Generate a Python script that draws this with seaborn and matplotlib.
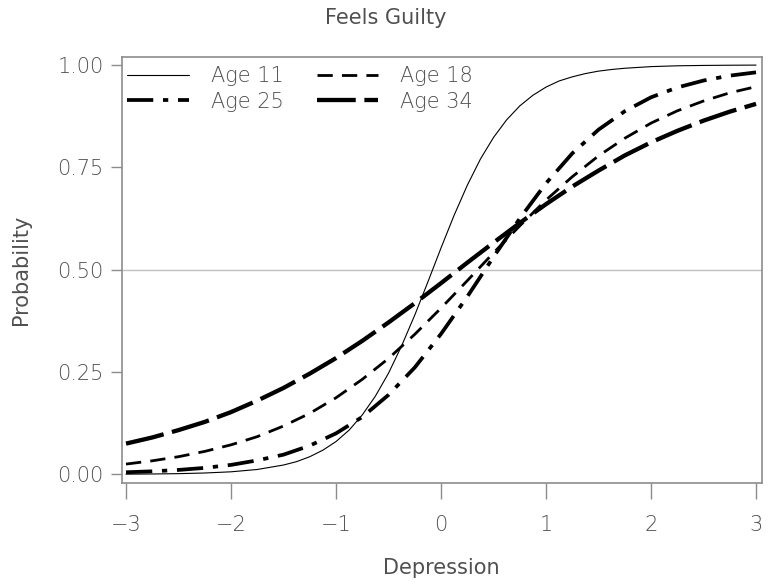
import numpy as np
import pandas as pd
import matplotlib
matplotlib.use("Agg")
import matplotlib.pyplot as plt
import seaborn as sns

# depression score grid and predicted probability
depression = [-3.0, -2.75, -2.5, -2.25, -2.0, -1.75, -1.5, -1.25, -1.0, -0.75, -0.5, -0.25,
              0.0, 0.25, 0.5, 0.75, 1.0, 1.25, 1.5, 1.75, 2.0, 2.25, 2.5, 2.75, 3.0]

# the age 11 curve is steep, so it was read at a finer step in the middle
depression_11 = [-3.0, -2.75, -2.5, -2.25, -2.0, -1.75, -1.5, -1.375, -1.25, -1.125, -1.0,
                 -0.875, -0.75, -0.625, -0.5, -0.375, -0.25, -0.125, 0.0, 0.125, 0.25, 0.375,
                 0.5, 0.625, 0.75, 0.875, 1.0, 1.125, 1.25, 1.375, 1.5, 1.625, 1.75, 2.0,
                 2.25, 2.5, 2.75, 3.0]
age_11 = [0.0004, 0.0008, 0.0016, 0.0032, 0.0061, 0.0118, 0.0227, 0.031, 0.043, 0.059, 0.080,
          0.108, 0.145, 0.191, 0.247, 0.314, 0.389, 0.470, 0.553, 0.633, 0.706, 0.770,
          0.823, 0.866, 0.900, 0.926, 0.946, 0.961, 0.971, 0.979, 0.985, 0.989, 0.992, 0.996,
          0.998, 0.9989, 0.9994, 0.9997]
age_18 = [0.025, 0.033, 0.043, 0.056, 0.072, 0.092, 0.118, 0.149, 0.187, 0.232, 0.283, 0.342,
          0.406, 0.473, 0.541, 0.607, 0.670, 0.727, 0.778, 0.821, 0.858, 0.888, 0.912, 0.932, 0.947]
age_25 = [0.005, 0.0073, 0.0107, 0.0157, 0.023, 0.034, 0.048, 0.070, 0.100, 0.140, 0.194, 0.261,
          0.343, 0.434, 0.531, 0.625, 0.711, 0.784, 0.842, 0.887, 0.921, 0.945, 0.962, 0.974, 0.982]
age_34 = [0.075, 0.090, 0.108, 0.128, 0.152, 0.180, 0.211, 0.246, 0.284, 0.326, 0.371, 0.418,
          0.467, 0.517, 0.566, 0.614, 0.660, 0.703, 0.742, 0.779, 0.811, 0.839, 0.864, 0.886, 0.905]

labels = ["Age 11", "Age 18", "Age 25", "Age 34"]
x_ticks = [-3, -2, -1, 0, 1, 2, 3]
y_ticks = [0.0, 0.25, 0.5, 0.75, 1.0]

df = pd.DataFrame({
    "Depression": depression_11 + depression * 3,
    "Probability": age_11 + age_18 + age_25 + age_34,
    "group": ["Age 11"] * len(depression_11) + list(np.repeat(labels[1:], len(depression))),
})

sns.set_style("white")
plt.rcParams["font.family"] = ["DejaVu Sans"]
plt.rcParams["font.weight"] = "light"
txt = "#505050"
edge = "#8c8c8c"

fig = plt.figure(figsize=(7.71, 5.87), dpi=100)
ax = fig.add_axes([121.7 / 771, 1 - 482.7 / 587, 640 / 771, 425.7 / 587])

styles = {
    "Age 11": dict(lw=0.8, ls="-"),
    "Age 18": dict(lw=2.0, ls=(0, (5.5, 3.3))),
    "Age 25": dict(lw=2.7, ls=(0, (7.0, 2.6, 1.4, 2.6))),
    "Age 34": dict(lw=3.1, ls=(0, (9.0, 2.0))),
}

ax.axhline(0.5, color="#c0c0c0", lw=1.0, zorder=1)

handles = {}
for lab in labels:
    sub = df[df["group"] == lab]
    sns.lineplot(data=sub, x="Depression", y="Probability", color="black",
                 linewidth=styles[lab]["lw"], linestyle=styles[lab]["ls"], ax=ax, zorder=3)
    handles[lab] = ax.lines[-1]

ax.set_xlim(-3.041, 3.054)
ax.set_ylim(-0.0205, 1.0195)
ax.set_xticks(x_ticks)
ax.set_xticklabels(["\u22123", "\u22122", "\u22121", "0", "1", "2", "3"])
ax.set_yticks(y_ticks)
ax.set_yticklabels(["0.00", "0.25", "0.50", "0.75", "1.00"])

for s in ax.spines.values():
    s.set_color(edge)
    s.set_linewidth(1.2)

ax.tick_params(axis="x", bottom=True, direction="out", length=11.5, width=1.0, color=edge,
               labelsize=15, labelcolor=txt, pad=12)
ax.tick_params(axis="y", left=True, direction="out", length=8, width=1.0, color=edge,
               labelsize=15, labelcolor=txt, pad=5)

ax.set_xlabel("Depression", fontsize=15, color=txt, labelpad=16)
ax.set_ylabel("Probability", fontsize=15, color=txt, labelpad=19)
fig.suptitle("Feels Guilty", fontsize=15, color=txt, x=0.5, y=1 - 18 / 587, va="center")

order = ["Age 11", "Age 25", "Age 18", "Age 34"]
ax.legend([handles[k] for k in order], order, ncol=2, frameon=False,
          loc="upper left", bbox_to_anchor=(-0.006, 1.0), borderaxespad=0.2, borderpad=0.25,
          fontsize=15, handlelength=2.95, handletextpad=1.05, columnspacing=1.6,
          labelspacing=0.25, labelcolor=txt)

fig.savefig("out.png", dpi=100)
